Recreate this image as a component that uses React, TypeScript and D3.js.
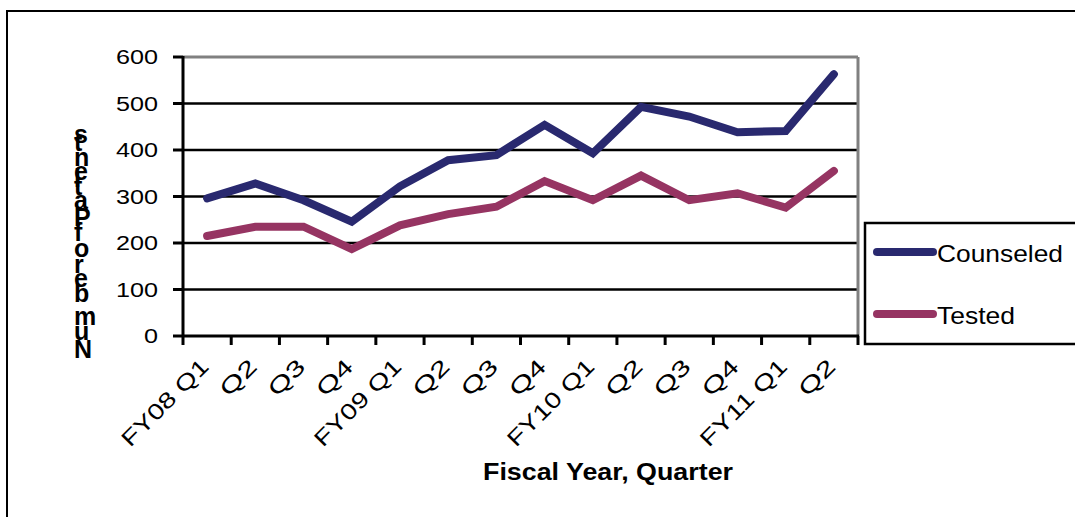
import React from "react";
import * as d3 from "d3";

const quarters = ["FY08 Q1", "Q2", "Q3", "Q4", "FY09 Q1", "Q2", "Q3", "Q4", "FY10 Q1", "Q2", "Q3", "Q4", "FY11 Q1", "Q2"];
const counseled = [296, 328, 292, 246, 322, 378, 389, 454, 393, 493, 472, 438, 441, 563];
const tested = [215, 235, 235, 187, 238, 262, 278, 333, 292, 345, 292, 307, 276, 355];
const yTicks = [0, 100, 200, 300, 400, 500, 600];
const seriesNames = ["Counseled", "Tested"];
const colors = ["#29296f", "#963462"];

const App = () => {
  const left = 183, right = 858, top = 57, bottom = 336;

  const x = d3.scaleBand<number>().domain(d3.range(quarters.length)).range([left, right]);
  const y = d3.scaleLinear().domain([0, 600]).range([bottom, top]);

  const line = d3
    .line<number>()
    .x((_, i) => (x(i) as number) + x.bandwidth() / 2)
    .y((d) => y(d));

  // tick marks sit on the category boundaries
  const bounds = d3.range(quarters.length + 1).map((i) => left + i * x.bandwidth());

  const font = "Arial, 'Liberation Sans', sans-serif";

  return (
    <svg width={1075} height={517} style={{ position: "absolute", left: 0, top: 0 }} fontFamily={font}>
      <rect x={0} y={0} width={1075} height={517} fill="#fff" />
      {/* outer chart frame */}
      <rect x={7} y={11} width={1080} height={520} fill="none" stroke="#000" strokeWidth={2} />

      {/* gridlines */}
      {yTicks.slice(1, -1).map((t) => (
        <line key={t} x1={left} x2={right} y1={y(t)} y2={y(t)} stroke="#000" strokeWidth={2.5} />
      ))}
      {/* plot area border (top and right) */}
      <line x1={left} x2={right} y1={top} y2={top} stroke="#808080" strokeWidth={3} />
      <line x1={right} x2={right} y1={top} y2={bottom} stroke="#808080" strokeWidth={3} />

      {/* axes */}
      <line x1={left} x2={left} y1={top - 1} y2={bottom + 1} stroke="#000" strokeWidth={3} />
      <line x1={left - 1} x2={right + 1} y1={bottom} y2={bottom} stroke="#000" strokeWidth={3} />
      {yTicks.map((t) => (
        <g key={t}>
          <line x1={left - 10} x2={left} y1={y(t)} y2={y(t)} stroke="#000" strokeWidth={3} />
          <text
            x={158}
            y={y(t) + 7}
            fontSize={20}
            textAnchor="end"
            textLength={String(t).length * 14}
            lengthAdjust="spacingAndGlyphs"
          >
            {t}
          </text>
        </g>
      ))}
      {bounds.map((b, i) => (
        <line key={i} x1={b} x2={b} y1={bottom} y2={bottom + 9} stroke="#000" strokeWidth={3} />
      ))}
      {quarters.map((q, i) => {
        const cx = (x(i) as number) + x.bandwidth() / 2 + 3;
        return (
          <text
            key={i}
            transform={`translate(${cx},${368}) rotate(-45)`}
            fontSize={22}
            textAnchor="end"
            textLength={q.length > 2 ? 113 : 42}
            lengthAdjust="spacingAndGlyphs"
          >
            {q}
          </text>
        );
      })}

      {/* series */}
      {[counseled, tested].map((s, k) => (
        <path
          key={k}
          d={line(s) ?? ""}
          fill="none"
          stroke={colors[k]}
          strokeWidth={8}
          strokeLinecap="round"
          strokeLinejoin="miter"
        />
      ))}

      {/* axis titles */}
      <text x={483} y={480} fontSize={23} fontWeight="bold" textLength={250} lengthAdjust="spacingAndGlyphs">
        Fiscal Year, Quarter
      </text>
      <text transform="translate(74,358) rotate(-90)" rotate="90" fontSize={25} fontWeight="bold">
        Number of Patients
      </text>

      {/* legend */}
      <rect x={865} y={223} width={220} height={121} fill="#fff" stroke="#000" strokeWidth={2.5} />
      {seriesNames.map((n, k) => {
        const ly = k === 0 ? 252 : 314;
        return (
          <g key={n}>
            <line x1={877} x2={933} y1={ly} y2={ly} stroke={colors[k]} strokeWidth={8} strokeLinecap="round" />
            <text
              x={937}
              y={ly + 10}
              fontSize={24}
              textLength={k === 0 ? 126 : 78}
              lengthAdjust="spacingAndGlyphs"
            >
              {n}
            </text>
          </g>
        );
      })}
    </svg>
  );
};

export default App;
